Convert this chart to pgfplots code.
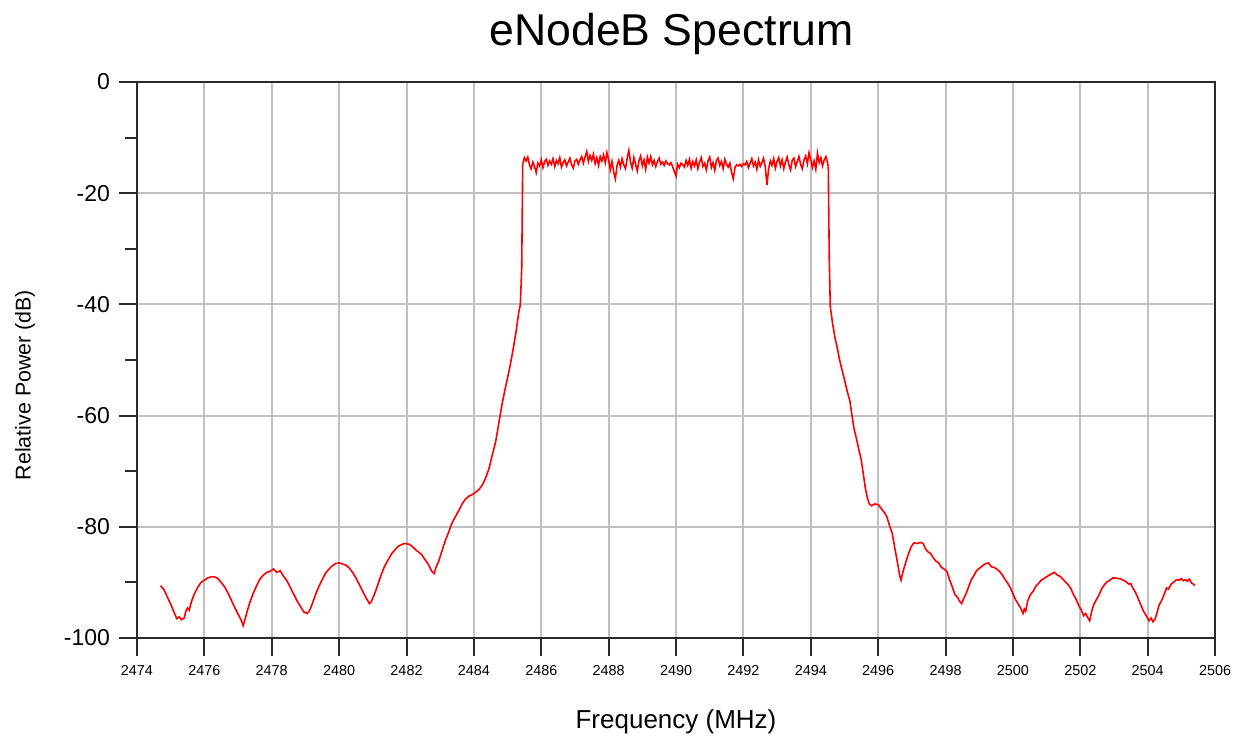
\documentclass[border=0pt]{standalone}
\usepackage{fontspec}
\setmainfont{Liberation Sans}
\usepackage{pgfplots}
\pgfplotsset{compat=1.18}
\definecolor{gridgray}{HTML}{C0C0C0}
\definecolor{axisdark}{HTML}{2A2A2A}

\begin{document}
\begin{tikzpicture}
\begin{axis}[
    name=ax,
    scale only axis,
    width=539pt, height=278pt,
    xmin=2474, xmax=2506,
    ymin=-100, ymax=0,
    xtick={2474,2476,...,2506},
    xticklabels={2474,2476,2478,2480,2482,2484,2486,2488,2490,2492,2494,2496,2498,2500,2502,2504,2506},
    ytick={-100,-80,...,0},
    yticklabels={-100,-80,-60,-40,-20,0},
    minor x tick num=1,
    minor y tick num=1,
    tick align=outside,
    tick pos=left,
    major tick length=9pt,
    minor tick length=6pt,
    tick style={axisdark, line width=1pt},
    axis line style={axisdark, line width=1.2pt},
    grid=major,
    major grid style={gridgray, line width=1pt},
    xticklabel style={font=\fontsize{7.2}{8}\selectfont, yshift=-1pt},
    yticklabel style={font=\fontsize{11.5}{13}\selectfont, xshift=-1pt},
    xlabel={Frequency (MHz)},
    ylabel={Relative Power (dB)},
    xlabel style={font=\fontsize{13}{15}\selectfont, at={(axis description cs:0.5,0)}, anchor=center, yshift=-42pt},
    ylabel style={font=\fontsize{10.7}{13}\selectfont, at={(axis description cs:0,0.455)}, anchor=center, yshift=56pt},
    title={eNodeB Spectrum},
    title style={font=\fontsize{22.3}{26}\selectfont, at={(axis description cs:0.496,1)}, anchor=base, yshift=12pt},
]
% left side lobes and rising edge
\addplot[red, line width=0.8pt, mark=none] coordinates {
(2474.70,-90.6) (2474.80,-91.3) (2474.90,-92.6) (2475.00,-93.9) (2475.10,-95.4) (2475.18,-96.5)
(2475.25,-96.2) (2475.32,-96.7) (2475.40,-96.4) (2475.45,-95.2) (2475.50,-94.6) (2475.55,-95.0)
(2475.62,-93.4) (2475.70,-92.1) (2475.80,-90.9) (2475.90,-90.0) (2476.00,-89.6) (2476.10,-89.2)
(2476.20,-89.0) (2476.30,-89.0) (2476.40,-89.3) (2476.50,-90.0) (2476.60,-90.8) (2476.70,-91.9)
(2476.80,-93.2) (2476.90,-94.5) (2477.00,-95.7) (2477.10,-96.9) (2477.15,-97.8) (2477.20,-96.8)
(2477.28,-95.0) (2477.35,-93.6) (2477.45,-92.0) (2477.55,-90.6) (2477.65,-89.4) (2477.75,-88.7)
(2477.85,-88.2) (2477.95,-88.0) (2478.05,-87.6) (2478.15,-88.2) (2478.25,-87.9) (2478.35,-88.9)
(2478.45,-89.7) (2478.55,-90.9) (2478.65,-92.1) (2478.75,-93.3) (2478.85,-94.3) (2478.95,-95.3)
(2479.05,-95.6) (2479.12,-95.1) (2479.20,-93.9) (2479.30,-92.2) (2479.40,-90.7) (2479.50,-89.5)
(2479.60,-88.3) (2479.70,-87.6) (2479.80,-87.0) (2479.90,-86.6) (2480.00,-86.5) (2480.10,-86.7)
(2480.20,-86.9) (2480.30,-87.4) (2480.40,-88.2) (2480.50,-89.2) (2480.60,-90.4) (2480.70,-91.6)
(2480.80,-92.8) (2480.90,-93.8) (2480.95,-93.5) (2481.05,-92.1) (2481.15,-90.4) (2481.25,-88.6)
(2481.35,-87.1) (2481.45,-86.0) (2481.55,-84.9) (2481.65,-84.2) (2481.75,-83.5) (2481.85,-83.2)
(2481.95,-83.0) (2482.05,-83.1) (2482.15,-83.4) (2482.25,-84.0) (2482.35,-84.5) (2482.45,-85.0)
(2482.55,-85.9) (2482.65,-86.8) (2482.75,-88.0) (2482.82,-88.4) (2482.88,-87.2) (2482.95,-86.3)
(2483.05,-84.4) (2483.15,-82.5) (2483.25,-81.0) (2483.35,-79.3) (2483.45,-78.2) (2483.55,-77.1)
(2483.65,-75.9) (2483.75,-75.0) (2483.85,-74.5) (2483.95,-74.2) (2484.05,-73.8) (2484.15,-73.3)
(2484.25,-72.5) (2484.35,-71.2) (2484.45,-69.5) (2484.55,-67.0) (2484.65,-64.6) (2484.75,-61.0)
(2484.85,-57.5) (2484.95,-54.6) (2485.05,-51.8) (2485.15,-48.6) (2485.25,-45.0) (2485.33,-41.5)
(2485.38,-40.0) (2485.42,-33.5) (2485.45,-14.8)
};
% occupied band
\addplot[red, line width=0.8pt, mark=none] coordinates {
(2485.45,-14.8) (2485.50,-13.6) (2485.55,-14.2) (2485.60,-13.5) (2485.65,-14.9) (2485.70,-15.6)
(2485.75,-14.4) (2485.80,-15.2) (2485.85,-16.3) (2485.90,-14.6) (2485.95,-15.1) (2486.00,-14.0)
(2486.05,-15.4) (2486.10,-14.3) (2486.15,-13.9) (2486.20,-15.0) (2486.25,-14.2) (2486.30,-14.8)
(2486.35,-13.8) (2486.40,-15.2) (2486.45,-14.1) (2486.50,-14.7) (2486.55,-13.6) (2486.60,-15.3)
(2486.65,-14.5) (2486.70,-14.0) (2486.75,-15.1) (2486.80,-14.4) (2486.85,-13.7) (2486.90,-14.9)
(2486.95,-15.5) (2487.00,-14.2) (2487.05,-13.9) (2487.10,-14.8) (2487.15,-14.0) (2487.20,-13.4)
(2487.25,-14.6) (2487.30,-13.5) (2487.35,-12.5) (2487.40,-14.3) (2487.45,-13.2) (2487.50,-14.1)
(2487.55,-13.0) (2487.60,-14.7) (2487.65,-13.6) (2487.70,-15.0) (2487.75,-13.4) (2487.80,-14.2)
(2487.85,-13.1) (2487.90,-14.5) (2487.95,-12.7) (2488.00,-14.0) (2488.05,-15.8) (2488.10,-14.3)
(2488.15,-16.2) (2488.20,-17.4) (2488.25,-15.0) (2488.30,-14.1) (2488.35,-15.3) (2488.40,-13.8)
(2488.45,-14.9) (2488.50,-15.6) (2488.55,-13.7) (2488.60,-12.3) (2488.65,-14.4) (2488.70,-15.5)
(2488.75,-13.6) (2488.80,-14.8) (2488.85,-16.0) (2488.90,-14.2) (2488.95,-13.3) (2489.00,-15.1)
(2489.05,-14.0) (2489.10,-15.7) (2489.15,-13.5) (2489.20,-14.6) (2489.25,-13.4) (2489.30,-14.9)
(2489.35,-14.1) (2489.40,-15.2) (2489.45,-14.3) (2489.50,-13.7) (2489.55,-14.8) (2489.60,-14.4)
(2489.65,-15.0) (2489.70,-14.2) (2489.75,-14.7) (2489.80,-14.9) (2489.85,-14.5) (2489.90,-15.2)
(2489.95,-16.1) (2490.00,-16.9) (2490.05,-14.8) (2490.10,-15.4) (2490.15,-14.6) (2490.20,-14.9)
(2490.25,-15.3) (2490.30,-14.1) (2490.35,-15.0) (2490.40,-13.9) (2490.45,-15.5) (2490.50,-14.3)
(2490.55,-15.1) (2490.60,-14.0) (2490.65,-15.6) (2490.70,-14.4) (2490.75,-13.6) (2490.80,-15.2)
(2490.85,-14.6) (2490.90,-15.8) (2490.95,-14.2) (2491.00,-13.5) (2491.05,-15.4) (2491.10,-14.5)
(2491.15,-15.9) (2491.20,-14.1) (2491.25,-13.7) (2491.30,-15.0) (2491.35,-14.3) (2491.40,-15.6)
(2491.45,-13.9) (2491.50,-14.8) (2491.55,-15.3) (2491.60,-14.6) (2491.65,-16.3) (2491.70,-17.4)
(2491.75,-15.4) (2491.80,-14.9) (2491.85,-15.1) (2491.90,-14.8) (2491.95,-15.2) (2492.00,-14.7)
(2492.05,-14.9) (2492.10,-14.3) (2492.15,-15.4) (2492.20,-14.6) (2492.25,-13.8) (2492.30,-15.1)
(2492.35,-14.4) (2492.40,-15.7) (2492.45,-14.0) (2492.50,-15.2) (2492.55,-14.5) (2492.60,-13.7)
(2492.65,-15.3) (2492.70,-18.5) (2492.75,-15.6) (2492.80,-14.2) (2492.85,-15.0) (2492.90,-13.8)
(2492.95,-15.5) (2493.00,-14.3) (2493.05,-13.6) (2493.10,-15.1) (2493.15,-14.0) (2493.20,-15.6)
(2493.25,-14.4) (2493.30,-13.5) (2493.35,-14.9) (2493.40,-15.8) (2493.45,-14.1) (2493.50,-13.7)
(2493.55,-15.2) (2493.60,-14.3) (2493.65,-13.4) (2493.70,-14.8) (2493.75,-15.6) (2493.80,-14.0)
(2493.85,-13.3) (2493.90,-14.7) (2493.95,-12.7) (2494.00,-13.9) (2494.05,-15.4) (2494.10,-14.2)
(2494.15,-15.7) (2494.20,-12.8) (2494.25,-14.5) (2494.30,-13.6) (2494.35,-15.1) (2494.40,-14.0)
(2494.45,-13.4) (2494.50,-14.6) (2494.52,-15.2)
};
% falling edge and right side lobes
\addplot[red, line width=0.8pt, mark=none] coordinates {
(2494.52,-15.2) (2494.55,-32.0) (2494.58,-40.4) (2494.65,-43.5) (2494.72,-46.0) (2494.78,-47.6)
(2494.85,-49.8) (2494.92,-51.6) (2495.00,-53.5) (2495.08,-55.6) (2495.16,-57.3) (2495.22,-59.8)
(2495.28,-62.2) (2495.35,-64.0) (2495.42,-65.9) (2495.50,-68.0) (2495.56,-70.5) (2495.62,-73.0)
(2495.68,-74.8) (2495.74,-75.9) (2495.80,-76.2) (2495.90,-75.9) (2496.00,-76.0) (2496.08,-76.6)
(2496.18,-77.4) (2496.26,-78.2) (2496.34,-79.8) (2496.42,-81.2) (2496.50,-84.0) (2496.58,-86.6)
(2496.64,-88.8) (2496.68,-89.6) (2496.74,-88.0) (2496.82,-86.4) (2496.90,-84.9) (2496.98,-83.6)
(2497.06,-82.9) (2497.16,-83.0) (2497.26,-82.8) (2497.34,-83.0) (2497.40,-83.9) (2497.48,-84.5)
(2497.56,-84.8) (2497.64,-85.6) (2497.72,-86.2) (2497.80,-86.5) (2497.88,-87.3) (2497.96,-87.6)
(2498.04,-88.0) (2498.12,-89.5) (2498.20,-90.8) (2498.28,-92.2) (2498.36,-92.7) (2498.42,-93.4)
(2498.48,-93.8) (2498.54,-92.9) (2498.60,-92.2) (2498.68,-90.9) (2498.76,-89.6) (2498.84,-88.8)
(2498.92,-87.9) (2499.00,-87.5) (2499.10,-87.0) (2499.20,-86.6) (2499.28,-86.5) (2499.36,-87.2)
(2499.44,-87.3) (2499.52,-87.6) (2499.60,-88.0) (2499.68,-88.6) (2499.76,-89.4) (2499.84,-90.1)
(2499.92,-90.9) (2500.00,-92.0) (2500.08,-93.1) (2500.16,-93.9) (2500.24,-94.7) (2500.30,-95.6)
(2500.34,-94.8) (2500.38,-95.2) (2500.44,-93.3) (2500.52,-92.2) (2500.60,-91.6) (2500.68,-90.7)
(2500.76,-90.2) (2500.84,-89.6) (2500.92,-89.3) (2501.00,-89.0) (2501.08,-88.7) (2501.16,-88.4)
(2501.24,-88.2) (2501.32,-88.7) (2501.40,-88.9) (2501.48,-89.4) (2501.56,-89.9) (2501.64,-90.4)
(2501.72,-91.1) (2501.80,-92.2) (2501.88,-93.1) (2501.96,-94.2) (2502.04,-95.1) (2502.10,-96.0)
(2502.16,-95.6) (2502.22,-96.3) (2502.28,-96.9) (2502.34,-95.2) (2502.40,-94.0) (2502.48,-93.1)
(2502.56,-92.2) (2502.64,-91.1) (2502.72,-90.4) (2502.80,-89.9) (2502.88,-89.6) (2502.96,-89.2)
(2503.04,-89.2) (2503.12,-89.3) (2503.20,-89.4) (2503.28,-89.6) (2503.36,-89.9) (2503.44,-90.3)
(2503.50,-90.2) (2503.56,-91.0) (2503.64,-91.8) (2503.72,-92.9) (2503.80,-94.1) (2503.88,-95.2)
(2503.96,-96.0) (2504.04,-96.9) (2504.10,-96.4) (2504.16,-97.1) (2504.22,-96.6) (2504.28,-95.4)
(2504.34,-94.1) (2504.42,-93.2) (2504.50,-92.0) (2504.56,-91.0) (2504.62,-91.2) (2504.70,-90.3)
(2504.78,-89.9) (2504.86,-89.5) (2504.94,-89.6) (2505.00,-89.3) (2505.06,-89.7) (2505.12,-89.5)
(2505.18,-89.8) (2505.24,-89.4) (2505.30,-90.1) (2505.36,-90.3) (2505.40,-90.6)
};
\end{axis}
% page frame with the reference's margins
\path ([shift={(-68.5pt,-51pt)}]ax.south west) rectangle ([shift={(11.5pt,41pt)}]ax.north east);
\end{tikzpicture}
\end{document}
